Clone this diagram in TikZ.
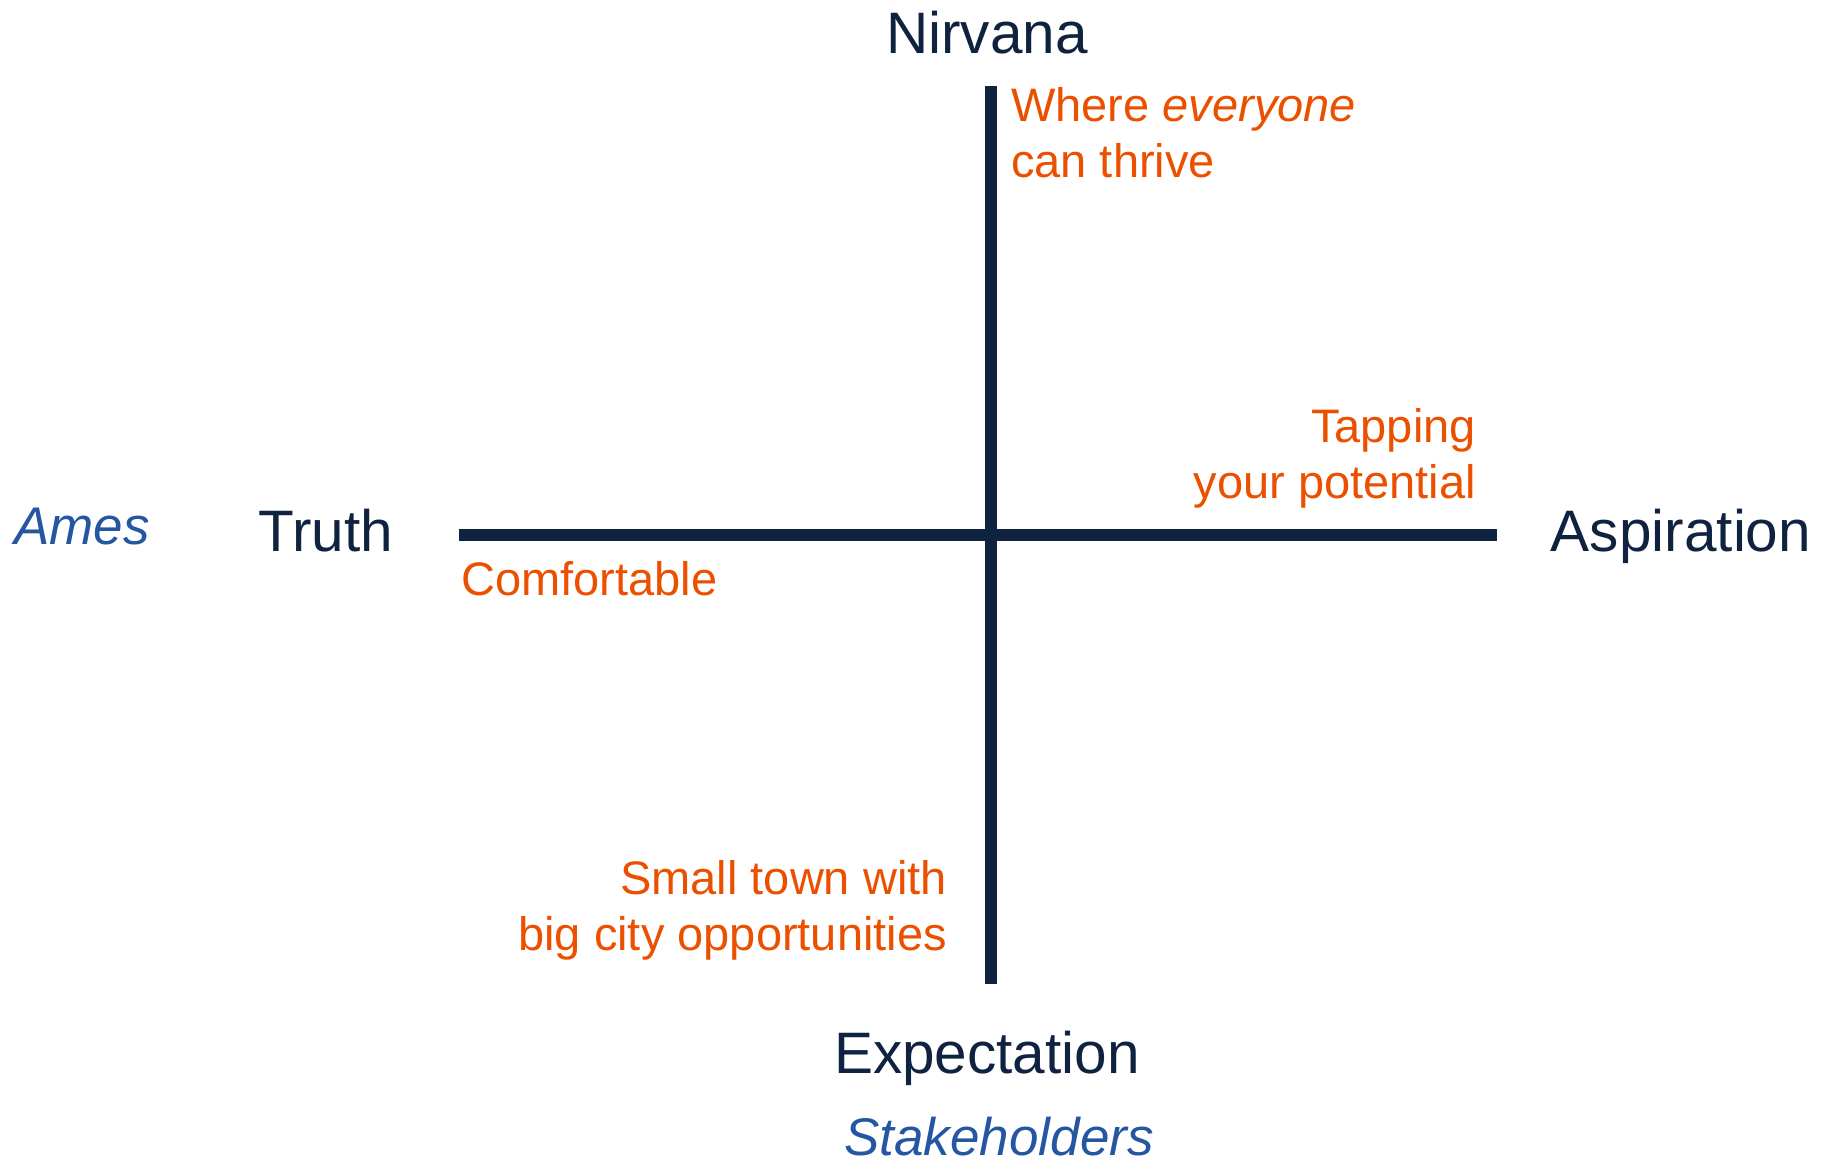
\documentclass[tikz,border=0pt]{standalone}
\usepackage{fontspec}
\setmainfont{Liberation Sans}
\usepackage{tikz}

\definecolor{axisnavy}{HTML}{0F2340}
\definecolor{noteorange}{HTML}{EA5000}
\definecolor{nameblue}{HTML}{2456A2}

\tikzset{
  axis/.style={line width=12pt, axisnavy},
  pole/.style={text=axisnavy, font=\fontsize{58.5}{70}\selectfont, inner sep=0pt},
  note/.style={text=noteorange, font=\fontsize{47}{56}\selectfont, inner sep=0pt},
  owner/.style={text=nameblue, font=\fontsize{53}{62}\selectfont\itshape, inner sep=0pt}
}

\begin{document}
\begin{tikzpicture}[x=1pt,y=-1pt]
  \useasboundingbox (0,0) rectangle (1825,1162);
  % axes
  \coordinate (top) at (991,86);
  \coordinate (bottom) at (991,984);
  \coordinate (left) at (459,535);
  \coordinate (right) at (1497,535);
  \draw[axis] (top) -- (bottom);
  \draw[axis] (left) -- (right);
  % poles
  \node[pole, anchor=base] (nirvana) at (987,53) {Nirvana};
  \node[pole, anchor=base] (expectation) at (987,1073) {Expectation};
  \node[pole, anchor=base] (truth) at (326,551) {Truth};
  \node[pole, anchor=base] (aspiration) at (1681,551) {Aspiration};
  % who
  \node[owner, anchor=base] (ames) at (82,544) {Ames};
  \node[owner, anchor=base] (stakeholders) at (999,1155) {Stakeholders};
  % quadrant notes (base = last line)
  \node[note, anchor=base west, align=left] (thrive) at (1011,177)
    {Where \textit{everyone}\\can thrive};
  \node[note, anchor=base east, align=right] (potential) at (1476,498)
    {Tapping\\your potential};
  \node[note, anchor=base west] (comfortable) at (461,595) {Comfortable};
  \node[note, anchor=base east, align=right] (smalltown) at (947,950)
    {Small town with\\big city opportunities};
\end{tikzpicture}
\end{document}
